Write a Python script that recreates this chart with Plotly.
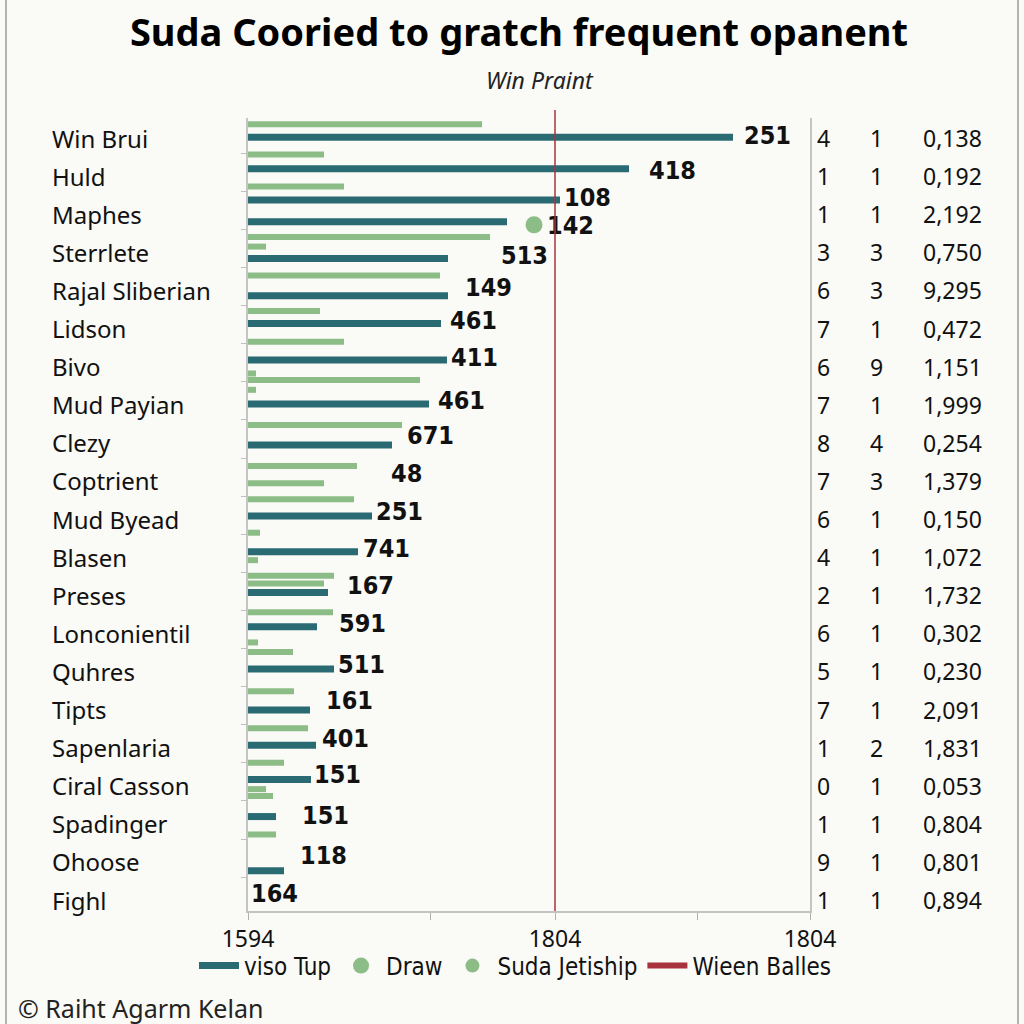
import plotly.graph_objects as go

# category rows (top to bottom) and the side table
categories = ["Win Brui", "Huld", "Maphes", "Sterrlete", "Rajal Sliberian", "Lidson", "Bivo",
              "Mud Payian", "Clezy", "Coptrient", "Mud Byead", "Blasen", "Preses", "Lonconientil",
              "Quhres", "Tipts", "Sapenlaria", "Ciral Casson", "Spadinger", "Ohoose", "Fighl"]
table_a = ["4", "1", "1", "3", "6", "7", "6", "7", "8", "7", "6", "4", "2", "6", "5", "7", "1", "0", "1", "9", "1"]
table_b = ["1", "1", "1", "3", "3", "1", "9", "1", "4", "3", "1", "1", "1", "1", "1", "1", "2", "1", "1", "1", "1"]
table_c = ["0,138", "0,192", "2,192", "0,750", "9,295", "0,472", "1,151", "1,999", "0,254", "1,379",
           "0,150", "1,072", "1,732", "0,302", "0,230", "2,091", "1,831", "0,053", "0,804", "0,801", "0,894"]

# "viso Tup" bars: row position, length
teal_row = [-0.02, 0.81, 1.63, 2.20, 3.16, 4.14, 4.87, 5.83, 6.98, 8.06,
            9.92, 10.86, 11.93, 12.83, 13.94, 15.01, 15.94, 16.84, 17.81, 19.23]
teal_val = [485, 381, 312, 259, 200, 200, 193, 199, 181, 144,
            124, 110, 80, 69, 86, 62, 68, 63, 28, 36]

# "Suda Jetiship" bars
green_row = [-0.36, 0.43, 1.27, 2.60, 2.85, 3.61, 4.54, 5.35, 6.18, 6.35, 6.61, 7.53, 8.61, 9.06,
             9.48, 10.36, 11.08, 11.49, 11.69, 12.45, 13.24, 13.49, 14.52, 15.49, 16.40, 17.09,
             17.27, 18.28]
green_val = [234, 76, 96, 242, 18, 192, 72, 96, 8, 172, 8, 154, 109, 76,
             106, 12, 10, 86, 76, 85, 10, 45, 46, 60, 36, 18, 25, 28]

# "Draw" point
draw_row = [2.28]
draw_val = [286]

# value labels
label_text = ["251", "418", "108", "142", "513", "149", "461", "411", "461", "671", "48",
              "251", "741", "167", "591", "511", "161", "401", "151", "151", "118", "164"]
label_row = [0.0, 0.92, 1.63, 2.36, 3.15, 3.99, 4.86, 5.83, 6.96, 7.87, 8.87,
             9.87, 10.84, 11.81, 12.81, 13.88, 14.83, 15.83, 16.77, 17.85, 18.9, 19.9]
label_x = [496, 401, 316, 299, 253, 217, 202, 203, 190, 159, 143,
           128, 115, 99, 91, 90, 78, 74, 66, 54, 52, 3]

wieen_value = 307
x_tickvals = [0, 182, 307, 449, 562]
x_ticktext = ["1594", "", "1804", "", "1804"]

TEAL = "#2a6b73"
GREEN = "#8dbd87"
RED = "#a8323e"
BG = "#fafaf6"
FONT = "Noto Sans, Open Sans, sans-serif"
NARROW = "DejaVu Sans Condensed, Noto Sans, sans-serif"

# plot area in pixels
L, R, T, B = 248, 810, 118, 911
W, H = R - L, B - T


def px(x):
    return (x - L) / W


def py(y):
    return (B - y) / H


def segments(rows, vals):
    xs, ys = [], []
    for r, v in zip(rows, vals):
        xs += [0, v, None]
        ys += [r, r, None]
    return xs, ys


fig = go.Figure()

tx, ty = segments(teal_row, teal_val)
fig.add_trace(go.Scatter(x=tx, y=ty, mode="lines", name="viso Tup", legendrank=1,
                         line=dict(color=TEAL, width=7)))
fig.add_trace(go.Scatter(x=draw_val, y=draw_row, mode="markers", name="Draw", legendrank=2,
                         marker=dict(color=GREEN, size=17)))
gx, gy = segments(green_row, green_val)
fig.add_trace(go.Scatter(x=gx, y=gy, mode="lines", name="Suda Jetiship", showlegend=False,
                         legendgroup="sj", line=dict(color=GREEN, width=6)))
fig.add_trace(go.Scatter(x=[None], y=[None], mode="markers", name="Suda Jetiship", legendrank=3,
                         legendgroup="sj", marker=dict(color=GREEN, size=14)))
fig.add_trace(go.Scatter(x=[None], y=[None], mode="lines", name="Wieen Balles", legendrank=4,
                         line=dict(color=RED, width=6)))
fig.add_trace(go.Scatter(x=label_x, y=label_row, mode="text", text=label_text,
                         textposition="middle right", showlegend=False, hoverinfo="skip",
                         textfont=dict(family=NARROW, size=25, color="#111111", weight="bold")))

fig.add_shape(type="line", x0=wieen_value, x1=wieen_value, yref="paper", y0=0, y1=1.01,
              line=dict(color=RED, width=1.5))

anns = []
for i, c in enumerate(categories):
    anns.append(dict(x=px(50), y=i, xref="paper", yref="y", text=c, showarrow=False,
                     xanchor="left", yanchor="middle", font=dict(family=FONT, size=24, color="#111")))
    anns.append(dict(x=px(823), y=i, xref="paper", yref="y", text=table_a[i], showarrow=False,
                     xanchor="center", yanchor="middle", font=dict(family=FONT, size=23, color="#111")))
    anns.append(dict(x=px(876), y=i, xref="paper", yref="y", text=table_b[i], showarrow=False,
                     xanchor="center", yanchor="middle", font=dict(family=FONT, size=23, color="#111")))
    anns.append(dict(x=px(984), y=i, xref="paper", yref="y", text=table_c[i], showarrow=False,
                     xanchor="right", yanchor="middle", font=dict(family=FONT, size=23, color="#111")))

anns.append(dict(x=px(540), y=py(80), xref="paper", yref="paper", text="<i>Win Praint</i>",
                 showarrow=False, xanchor="center", yanchor="middle",
                 font=dict(family=FONT, size=23, color="#222")))
anns.append(dict(x=px(16), y=py(1008), xref="paper", yref="paper", text="© Raiht Agarm Kelan",
                 showarrow=False, xanchor="left", yanchor="middle",
                 font=dict(family=FONT, size=25, color="#222")))

for xb in (6, 1018):
    fig.add_shape(type="line", xref="paper", yref="paper", x0=px(xb), x1=px(xb), y0=py(0), y1=py(1024),
                  line=dict(color="#9a9a9a", width=1.5))

fig.update_layout(
    width=1024, height=1024,
    margin=dict(l=L, r=1024 - R, t=T, b=1024 - B),
    paper_bgcolor=BG, plot_bgcolor=BG,
    title=dict(text="<b>Suda Cooried to gratch frequent opanent</b>", x=519 / 1024, y=1 - 33 / 1024,
               xanchor="center", yanchor="middle", font=dict(family=FONT, size=38, color="#000")),
    annotations=anns,
    showlegend=True,
    legend=dict(orientation="h", x=px(194), y=py(966), xanchor="left", yanchor="middle",
                bgcolor="rgba(0,0,0,0)", font=dict(family=NARROW, size=24, color="#111"),
                itemwidth=40, traceorder="normal"),
)
fig.update_xaxes(range=[0, W], tickvals=x_tickvals, ticktext=x_ticktext, showgrid=False, zeroline=False,
                 showline=True, linecolor="#c4c4c4", linewidth=1.5, ticks="outside", ticklen=7,
                 tickcolor="#b0b0b0", tickfont=dict(family=FONT, size=23, color="#111"))
fig.update_yaxes(range=[(B - 138) / 38.1, (T - 138) / 38.1], showgrid=False, zeroline=False,
                 showticklabels=False, showline=True, mirror=True, linecolor="#c4c4c4", linewidth=1.5,
                 ticks="outside", ticklen=5, tickcolor="#c0c0c0", tick0=-0.6, dtick=1)

fig.write_html("out.html", config={"displayModeBar": False},
               post_script="document.body.style.margin='0';")
